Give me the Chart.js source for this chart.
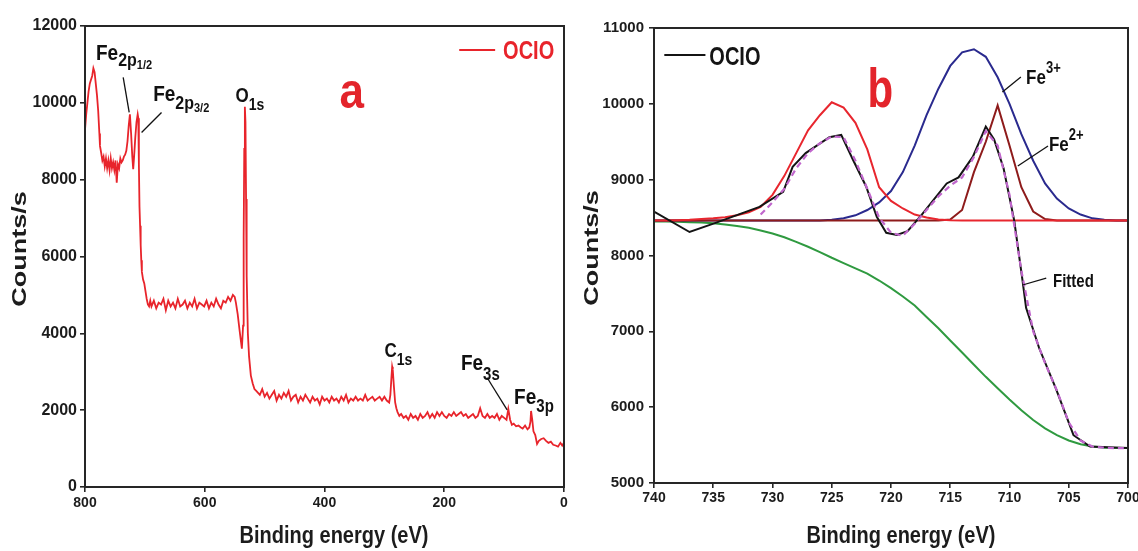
<!DOCTYPE html>
<html>
<head>
<meta charset="utf-8">
<title>XPS OCIO</title>
<script src="https://cdn.jsdelivr.net/npm/chart.js@4.4.1/dist/chart.umd.min.js"></script>
<style>
  html, body { margin: 0; padding: 0; background: #fff; }
  #wrap { position: relative; width: 1138px; height: 551px; overflow: hidden; }
  canvas { position: absolute; top: 0; }
  #chartA { left: 0; }
  #chartB { left: 569px; }
</style>
</head>
<body>
<div id="wrap">
  <canvas id="chartA" width="569" height="551"></canvas>
  <canvas id="chartB" width="569" height="551"></canvas>
</div>
<script>
// ---- panel a : survey spectrum ----
const surveyEnergy = [
  800, 798, 796, 794, 792, 790, 788, 786, 784, 782, 780, 778, 776, 775, 773, 771, 769, 767, 765, 763,
  761, 759, 757, 755, 753, 751, 749, 747, 745, 743, 741, 739, 737, 735, 733, 731, 729, 727, 725, 723,
  721, 719.5, 718, 716, 714, 712, 711, 710, 709, 708, 707, 706, 705, 703, 701, 699, 697, 695, 693, 691,
  689, 685, 681, 677, 673, 669, 665, 661, 657, 653, 649, 645, 641, 637, 633, 629, 625, 621, 617, 613,
  609, 605, 601, 597, 593, 589, 585, 581, 577, 573, 569, 565, 561, 557,
  553, 550, 548, 545, 542, 540, 538, 536, 535, 534, 533, 532, 531, 530, 528, 526, 523, 520, 517, 514, 511,
  508, 504, 500, 496, 492, 488, 484, 480, 476, 472, 468, 464, 460, 456, 452, 448, 444, 440, 436, 432,
  428, 424, 420, 416, 412, 408, 404, 400, 396, 392, 388, 384, 380, 376, 372, 368, 364, 360, 356, 352,
  348, 344, 340, 336, 332, 328, 324, 320, 316, 312, 308, 304, 300, 296, 292,
  290, 288, 287, 286, 284, 282, 280, 278, 275,
  272, 268, 264, 260, 256, 252, 248, 244, 240, 236, 232, 228, 224, 220, 216, 212, 208, 204, 200, 196,
  192, 188, 184, 180, 176, 172, 168, 164, 160, 156, 152, 148, 144, 140, 136, 132, 128, 124, 120, 116,
  112, 108, 104, 100, 96,
  93, 90, 87, 84, 80, 76, 72, 69, 65, 61, 58, 56, 55, 53, 51, 48, 45, 42, 38, 34,
  30, 26, 22, 18, 14, 10, 6, 3, 0
];
const surveyCounts = [
  9300, 9700, 10000, 10300, 10500, 10600, 10700, 10900, 10800, 10500, 10200, 9800, 9200, 8880, 8700, 8500, 8600, 8350, 8550, 8300,
  8500, 8250, 8550, 8300, 8450, 8250, 8500, 7920, 8400, 8300, 8550, 8450, 8500, 8600, 8650, 8750, 9000, 9400, 9700, 9200,
  8600, 8270, 8600, 9100, 9500, 9700, 9600, 8400, 7300, 6800, 6300, 5900, 5600, 5400, 5300, 5100, 4900, 4750, 4700, 4850,
  4700, 4850, 4650, 4800, 4750, 4900, 4600, 4850, 4700, 4800, 4650, 4900, 4700, 4750, 4850, 4650, 4800, 4700, 4900, 4650,
  4800, 4750, 4700, 4850, 4650, 4800, 4700, 4900, 4750, 4650, 4850, 4800, 4950, 4850,
  5000, 4950, 4800, 4500, 4100, 3850, 3600, 4200, 6500, 8800, 9900, 9500, 7500, 5500, 4000, 3400, 2900, 2700, 2550, 2500, 2450,
  2400, 2550, 2350, 2450, 2300, 2400, 2500, 2250, 2400, 2300, 2450, 2350, 2500, 2250, 2350, 2400, 2200, 2350, 2250, 2400,
  2300, 2200, 2350, 2250, 2300, 2150, 2350, 2250, 2300, 2200, 2350, 2250, 2300, 2200, 2350, 2250, 2400, 2200, 2300, 2250,
  2350, 2250, 2300, 2250, 2400, 2250, 2300, 2350, 2250, 2300, 2350, 2250, 2350, 2250, 2200,
  2400, 2900, 3130, 3050, 2600, 2200, 2050, 1950, 1850,
  1900, 1800, 1850, 1750, 1900, 1800, 1850, 1750, 1900, 1800, 1850, 1950, 1800, 1900, 1800, 1950, 1850, 1950, 1850, 1800,
  1900, 1850, 1950, 1850, 1900, 1950, 1850, 1900, 1800, 1850, 1900, 1800, 1850, 2050, 1850, 1800, 1900, 1800, 1850, 1800,
  1900, 1750, 1850, 1800, 1750,
  2030, 1750, 1620, 1650, 1580, 1600, 1550, 1520, 1600, 1500, 1550, 1700, 1980, 1750, 1450, 1350, 1120, 1200, 1250, 1270,
  1200, 1150, 1180, 1100, 1080, 1050, 1150, 1080, 1150
];

// ---- panel b : Fe 2p region ----
const ocioEnergy = [740, 737.0, 734.8, 731.1, 729.1, 728.3, 727.2, 725.2, 724.2, 723.2, 722.1, 721.2, 720.4, 719.5, 718.6,
  717.4, 715.3, 714.3, 713.1, 712.0, 711.3, 710.5, 709.6, 708.9, 708.6, 707.5, 706.1, 704.6, 703.2, 700];
const ocioCounts = [8580, 8310, 8430, 8640, 8840, 9170, 9350, 9560, 9590, 9260, 8910, 8510, 8300, 8270, 8320,
  8540, 8950, 9030, 9300, 9700, 9530, 9150, 8460, 7670, 7310, 6780, 6250, 5630, 5480, 5460];

const fitEnergy = [740, 739, 738, 737, 736, 735, 734, 733, 732, 731, 730, 729, 728, 727, 726, 725, 724, 723, 722, 721,
  720, 719, 718, 717, 716, 715, 714, 713, 712, 711, 710, 709, 708, 707, 706, 705, 704, 703, 702, 701, 700];
const peak725 = [8460, 8460, 8465, 8470, 8480, 8490, 8505, 8530, 8570, 8640, 8800, 9050, 9350, 9650, 9850, 10020, 9950, 9750, 9400, 8900,
  8720, 8620, 8540, 8500, 8475, 8465, 8460, 8460, 8460, 8460, 8460, 8460, 8460, 8460, 8460, 8460, 8460, 8460, 8460, 8460, 8460];
const fe3Peak = [8460, 8460, 8460, 8460, 8460, 8460, 8460, 8460, 8460, 8460, 8460, 8460, 8460, 8460, 8462, 8470, 8490, 8530, 8600, 8700,
  8850, 9100, 9450, 9850, 10200, 10500, 10680, 10720, 10620, 10350, 10000, 9600, 9250, 8950, 8750, 8620, 8540, 8490, 8470, 8460, 8460];
const fe2Peak = [8460, 8460, 8460, 8460, 8460, 8460, 8460, 8460, 8460, 8460, 8460, 8460, 8460, 8460, 8460, 8460, 8460, 8460, 8460, 8460,
  8460, 8460, 8460, 8460, 8460, 8475, 8600, 9100, 9500, 9980, 9450, 8900, 8580, 8480, 8460, 8460, 8460, 8460, 8460, 8460, 8460];
const background = [8450, 8448, 8445, 8440, 8435, 8425, 8410, 8390, 8365, 8330, 8290, 8240, 8180, 8115, 8045, 7970, 7900, 7830, 7760, 7670,
  7570, 7460, 7340, 7190, 7040, 6880, 6720, 6560, 6400, 6250, 6100, 5960, 5830, 5720, 5630, 5560, 5510, 5480, 5465, 5460, 5460];
const fitted = [null, null, null, null, null, null, null, null, null, 8540, 8700, 8880, 9150, 9350, 9480, 9570, 9560, 9250, 8880, 8500,
  8300, 8260, 8420, 8600, 8780, 8920, 9030, 9300, 9640, 9450, 8800, 7800, 7000, 6580, 6220, 5800, 5560, 5480, 5465, 5460, 5460];

const surveyTicks = [0, 800, 200, 0, 12000, 2000];   // xmin, xmax, xstep, ymin, ymax, ystep
const detailTicks = [700, 740, 5, 5000, 11000, 1000];

const FONT = '"Liberation Sans", Arial, Helvetica, sans-serif';
const INK = '#1c1c1c';

function pts(xs, ys) {
  return xs.map((x, i) => ({ x: x, y: ys[i] }));
}

function lineSet(label, xs, ys, color, width, order, dash) {
  return {
    label: label,
    data: pts(xs, ys),
    borderColor: color,
    borderWidth: width,
    borderDash: dash || [],
    pointRadius: 0,
    tension: 0,
    fill: false,
    order: order
  };
}

function line(ctx, p, q) {
  ctx.beginPath();
  ctx.moveTo(p[0], p[1]);
  ctx.lineTo(q[0], q[1]);
  ctx.stroke();
}

// text with sub/superscripts, slightly stretched vertically like the original figure
function drawParts(ctx, at, parts, color, stretch) {
  ctx.save();
  ctx.fillStyle = color;
  ctx.textAlign = 'left';
  ctx.textBaseline = 'alphabetic';
  let cx = at[0];
  parts.forEach(p => {
    ctx.font = `bold ${p.size}px ${FONT}`;
    ctx.save();
    ctx.translate(cx, at[1] + (p.dy || 0));
    ctx.scale(1, stretch);
    ctx.fillText(p.text, 0, 0);
    ctx.restore();
    cx += ctx.measureText(p.text).width;
  });
  ctx.restore();
}

function makePanelPlugin(cfg) {
  return {
    id: 'panel' + cfg.name,
    afterDatasetsDraw(chart) {
      const ctx = chart.ctx;
      const a = chart.chartArea;
      const sx = chart.scales.x, sy = chart.scales.y;
      const px = p => [sx.getPixelForValue(p[0]), sy.getPixelForValue(p[1])];
      ctx.save();

      // frame
      ctx.strokeStyle = '#262626';
      ctx.lineWidth = 2;
      ctx.strokeRect(a.left, a.top, a.right - a.left, a.bottom - a.top);

      // legend
      ctx.strokeStyle = cfg.legend.color;
      ctx.lineWidth = 2.2;
      line(ctx, px(cfg.legend.from), px(cfg.legend.to));
      drawParts(ctx, px(cfg.legend.textAt), [{ text: 'OCIO', size: 20 }], cfg.legend.color, 1.25);

      // leader lines + peak labels
      ctx.strokeStyle = '#111';
      ctx.lineWidth = 1.3;
      cfg.leaders.forEach(l => line(ctx, px(l[0]), px(l[1])));
      cfg.labels.forEach(l => drawParts(ctx, px(l.at), l.parts, l.color || '#111', l.stretch || 1.2));

      // axis titles
      ctx.fillStyle = INK;
      ctx.font = `bold 20px ${FONT}`;
      ctx.textAlign = 'center';
      ctx.textBaseline = 'alphabetic';
      ctx.save();
      ctx.translate(cfg.xTitle[0], cfg.xTitle[1]);
      ctx.scale(1, 1.22);
      ctx.fillText('Binding energy (eV)', 0, 0);
      ctx.restore();

      ctx.font = `bold 20px ${FONT}`;
      ctx.textBaseline = 'middle';
      ctx.save();
      ctx.translate(cfg.yTitle[0], cfg.yTitle[1]);
      ctx.rotate(-Math.PI / 2);
      ctx.scale(1.35, 1);
      ctx.fillText('Counts/s', 0, 0);
      ctx.restore();

      ctx.restore();
    }
  };
}

function scales(t, yFont, xPad, yPad, xHeight) {
  const grid = { display: true, drawOnChartArea: false, drawTicks: true, tickLength: 5, color: '#262626', lineWidth: 1.6 };
  const plain = v => String(v);
  return {
    x: {
      type: 'linear', reverse: true, min: t[0], max: t[1],
      grid: grid, border: { display: false },
      ticks: { stepSize: t[2], padding: xPad, color: INK, callback: plain, font: { family: FONT, size: 14, weight: 'bold' } },
      afterFit: s => { s.height = xHeight; s.paddingLeft = 0; s.paddingRight = 0; }
    },
    y: {
      type: 'linear', min: t[3], max: t[4],
      grid: grid, border: { display: false },
      ticks: { stepSize: t[5], padding: yPad, color: INK, callback: plain, font: { family: FONT, size: yFont, weight: 'bold' } },
      afterFit: s => { s.width = 85; }
    }
  };
}

function baseOptions(padding, sc) {
  return {
    responsive: false,
    animation: false,
    devicePixelRatio: 1,
    layout: { padding: padding },
    plugins: { legend: { display: false }, tooltip: { enabled: false } },
    scales: sc
  };
}

// panel a
new Chart(document.getElementById('chartA'), {
  type: 'line',
  data: { datasets: [lineSet('OCIO', surveyEnergy, surveyCounts, '#e8242b', 1.8, 0)] },
  options: baseOptions({ left: 0, right: 5, top: 26, bottom: 0 }, scales(surveyTicks, 16, 3, 3, 64)),
  plugins: [makePanelPlugin({
    name: 'A',
    legend: { from: [175, 11375], to: [115, 11375], textAt: [101.7, 11140], color: '#e8242b' },
    leaders: [
      [[736.2, 10662], [726.2, 9749]],
      [[672.2, 9749], [705.5, 9227]],
      [[128.3, 2843], [95, 2008]]
    ],
    labels: [
      { at: [781.7, 11114], parts: [{ text: 'Fe', size: 19 }, { text: '2p', size: 16, dy: 6 }, { text: '1/2', size: 11, dy: 9 }] },
      { at: [686.2, 10052], parts: [{ text: 'Fe', size: 19 }, { text: '2p', size: 16, dy: 8 }, { text: '3/2', size: 11, dy: 11 }] },
      { at: [548.8, 10010], parts: [{ text: 'O', size: 17 }, { text: '1s', size: 14, dy: 8 }] },
      { at: [300, 3392], parts: [{ text: 'C', size: 17 }, { text: '1s', size: 14, dy: 8 }] },
      { at: [172.2, 3052], parts: [{ text: 'Fe', size: 19 }, { text: '3s', size: 15, dy: 10 }] },
      { at: [83.3, 2165], parts: [{ text: 'Fe', size: 19 }, { text: '3p', size: 15, dy: 8 }] },
      { at: [375, 9862], parts: [{ text: 'a', size: 44 }], color: '#e3242b', stretch: 1.15 }
    ],
    xTitle: [334, 543],
    yTitle: [20, 249]
  })]
});

// panel b
new Chart(document.getElementById('chartB'), {
  type: 'line',
  data: {
    datasets: [
      lineSet('Fitted', fitEnergy, fitted, '#c066cc', 2.2, 0, [6, 4]),
      lineSet('OCIO', ocioEnergy, ocioCounts, '#141414', 2, 1),
      lineSet('725 eV', fitEnergy, peak725, '#e8262e', 2, 2),
      lineSet('Fe2+', fitEnergy, fe2Peak, '#8e1b1b', 2, 3),
      lineSet('Fe3+', fitEnergy, fe3Peak, '#2a2a8e', 2, 4),
      lineSet('Background', fitEnergy, background, '#2f9a40', 2, 5)
    ]
  },
  options: baseOptions({ left: 0, right: 10, top: 28, bottom: 0 }, scales(detailTicks, 15, 2, 5, 68)),
  plugins: [makePanelPlugin({
    name: 'B',
    legend: { from: [739.13, 10644], to: [735.66, 10644], textAt: [735.33, 10512], color: '#141414' },
    leaders: [
      [[709.04, 10354], [710.6, 10156]],
      [[706.75, 9444], [709.3, 9180]],
      [[706.9, 7703], [708.9, 7611]]
    ],
    labels: [
      { at: [721.98, 9958], parts: [{ text: 'b', size: 42 }], color: '#e3242b', stretch: 1.3 },
      { at: [708.6, 10262], parts: [{ text: 'Fe', size: 17 }, { text: '3+', size: 13, dy: -11 }] },
      { at: [706.67, 9378], parts: [{ text: 'Fe', size: 17 }, { text: '2+', size: 13, dy: -11 }] },
      { at: [706.33, 7585], parts: [{ text: 'Fitted', size: 15 }] }
    ],
    xTitle: [332, 543],
    yTitle: [23, 248]
  })]
});
</script>
</body>
</html>
